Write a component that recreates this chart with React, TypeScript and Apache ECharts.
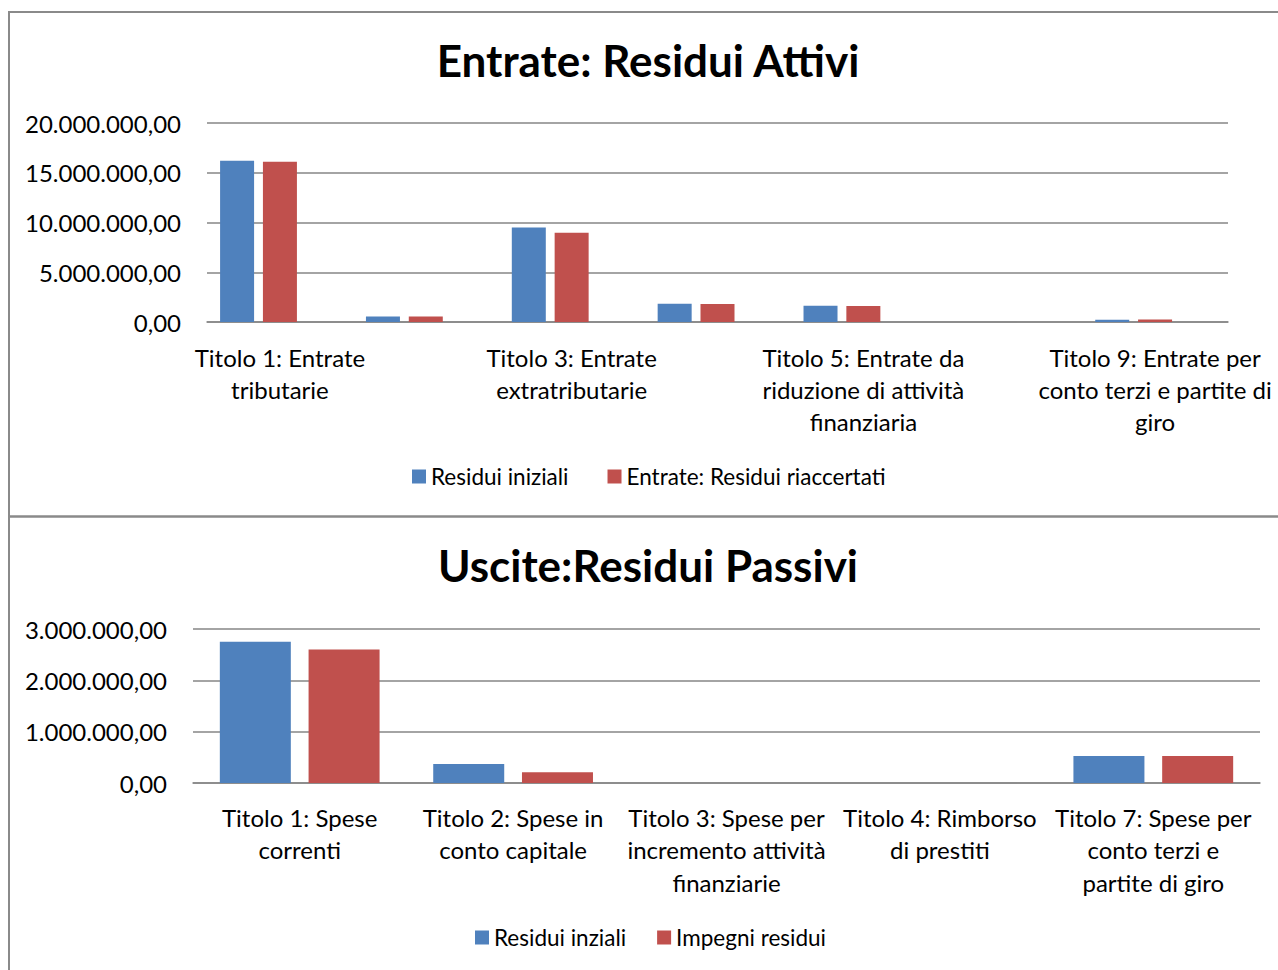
import React, { useEffect, useRef } from "react";
import * as echarts from "echarts";

const entrateCategories = [
  "Titolo 1: Entrate\ntributarie",
  "Titolo 2: Trasferimenti\ncorrenti",
  "Titolo 3: Entrate\nextratributarie",
  "Titolo 4: Entrate in\nconto capitale",
  "Titolo 5: Entrate da\nriduzione di attività\nfinanziaria",
  "Titolo 6: Accensione\nprestiti",
  "Titolo 9: Entrate per\nconto terzi e partite di\ngiro",
];
const residuiIniziali = [16200000, 560000, 9500000, 1830000, 1630000, 0, 230000];
const residuiRiaccertati = [16100000, 550000, 8960000, 1820000, 1620000, 0, 250000];
const serie3 = [null, null, null, null, null, null, null];

const usciteCategories = [
  "Titolo 1: Spese\ncorrenti",
  "Titolo 2: Spese in\nconto capitale",
  "Titolo 3: Spese per\nincremento attività\nfinanziarie",
  "Titolo 4: Rimborso\ndi prestiti",
  "Titolo 7: Spese per\nconto terzi e\npartite di giro",
];
const residuiInziali = [2750000, 370000, 0, 0, 527000];
const impegniResidui = [2600000, 210000, 0, 0, 527000];

const FONT = "Lato";
const BLUE = "#4F81BD";
const RED = "#C0504D";
const GRID = "#868686";

function fmtIt(v: number): string {
  const fixed = Math.abs(v).toFixed(2);
  const [intPart, dec] = fixed.split(".");
  const withDots = intPart.replace(/\B(?=(\d{3})+(?!\d))/g, ".");
  return (v < 0 ? "-" : "") + withDots + "," + dec;
}

export default function App() {
  const ref = useRef<HTMLDivElement>(null);
  useEffect(() => {
    if (!ref.current) return;
    const chart = echarts.init(ref.current, undefined, { renderer: "svg" });
    const axisLabelStyle = { color: "#000", fontFamily: FONT, fontSize: 24 };
    const titleStyle = { fontFamily: FONT, fontWeight: "bold", fontSize: 44, color: "#000" };
    const legendText = { fontFamily: FONT, fontSize: 22.5, color: "#000" };
    chart.setOption({
      animation: false,
      backgroundColor: "#fff",
      textStyle: { fontFamily: FONT },
      title: [
        {
          text: "Entrate: Residui Attivi",
          left: 648,
          textAlign: "center",
          top: 38,
          padding: 0,
          textStyle: titleStyle,
        },
        {
          text: "Uscite:Residui Passivi",
          left: 648,
          textAlign: "center",
          top: 543,
          padding: 0,
          textStyle: titleStyle,
        },
      ],
      legend: [
        {
          data: ["Residui iniziali", "Entrate: Residui riaccertati"],
          left: 412,
          top: 465,
          padding: 0,
          itemWidth: 14,
          itemHeight: 14,
          itemGap: 39,
          icon: "rect",
          textStyle: legendText,
        },
        {
          data: ["Residui inziali", "Impegni residui"],
          left: 475,
          top: 926,
          padding: 0,
          itemWidth: 14,
          itemHeight: 14,
          itemGap: 31,
          icon: "rect",
          textStyle: legendText,
        },
      ],
      grid: [
        { left: 207, top: 123, width: 1021, height: 199, containLabel: false },
        { left: 193, top: 629, width: 1067, height: 154, containLabel: false },
      ],
      xAxis: [
        {
          type: "category",
          gridIndex: 0,
          data: entrateCategories,
          axisLine: { lineStyle: { color: GRID, width: 1.5 } },
          axisTick: { show: false },
          axisLabel: { ...axisLabelStyle, interval: 1, margin: 19, lineHeight: 32, align: "center" },
        },
        {
          type: "category",
          gridIndex: 1,
          data: usciteCategories,
          axisLine: { lineStyle: { color: GRID, width: 1.5 } },
          axisTick: { show: false },
          axisLabel: { ...axisLabelStyle, interval: 0, margin: 18, lineHeight: 32.5, align: "center" },
        },
      ],
      yAxis: [
        {
          type: "value",
          gridIndex: 0,
          min: 0,
          max: 20000000,
          interval: 5000000,
          axisLine: { show: false },
          axisTick: { show: false },
          splitLine: { lineStyle: { color: GRID, width: 1.5 } },
          axisLabel: { ...axisLabelStyle, margin: 26, formatter: (v: number) => fmtIt(v) },
        },
        {
          type: "value",
          gridIndex: 1,
          min: 0,
          max: 3000000,
          interval: 1000000,
          axisLine: { show: false },
          axisTick: { show: false },
          splitLine: { lineStyle: { color: GRID, width: 1.5 } },
          axisLabel: { ...axisLabelStyle, margin: 26, formatter: (v: number) => fmtIt(v) },
        },
      ],
      series: [
        {
          name: "Residui iniziali",
          type: "bar",
          xAxisIndex: 0,
          yAxisIndex: 0,
          data: residuiIniziali,
          barWidth: 34,
          barGap: "26%",
          itemStyle: { color: BLUE },
        },
        {
          name: "Entrate: Residui riaccertati",
          type: "bar",
          xAxisIndex: 0,
          yAxisIndex: 0,
          data: residuiRiaccertati,
          barWidth: 34,
          barGap: "26%",
          itemStyle: { color: RED },
        },
        {
          name: "Serie3",
          type: "bar",
          xAxisIndex: 0,
          yAxisIndex: 0,
          data: serie3,
          barWidth: 34,
          barGap: "26%",
          itemStyle: { color: "#9BBB59" },
        },
        {
          name: "Residui inziali",
          type: "bar",
          xAxisIndex: 1,
          yAxisIndex: 1,
          data: residuiInziali,
          barWidth: 71,
          barGap: "25%",
          itemStyle: { color: BLUE },
        },
        {
          name: "Impegni residui",
          type: "bar",
          xAxisIndex: 1,
          yAxisIndex: 1,
          data: impegniResidui,
          barWidth: 71,
          barGap: "25%",
          itemStyle: { color: RED },
        },
      ],
      graphic: [
        {
          type: "rect",
          shape: { x: 9, y: 12, width: 1300, height: 504.5 },
          style: { fill: "none", stroke: "#8a8a8a", lineWidth: 2 },
          silent: true,
        },
        {
          type: "rect",
          shape: { x: 9, y: 516.5, width: 1300, height: 500 },
          style: { fill: "none", stroke: "#8a8a8a", lineWidth: 2 },
          silent: true,
        },
      ],
    });
    return () => chart.dispose();
  }, []);
  return (
    <div
      ref={ref}
      style={{ position: "fixed", left: 0, top: 0, width: 1278, height: 970, background: "#fff" }}
    />
  );
}
